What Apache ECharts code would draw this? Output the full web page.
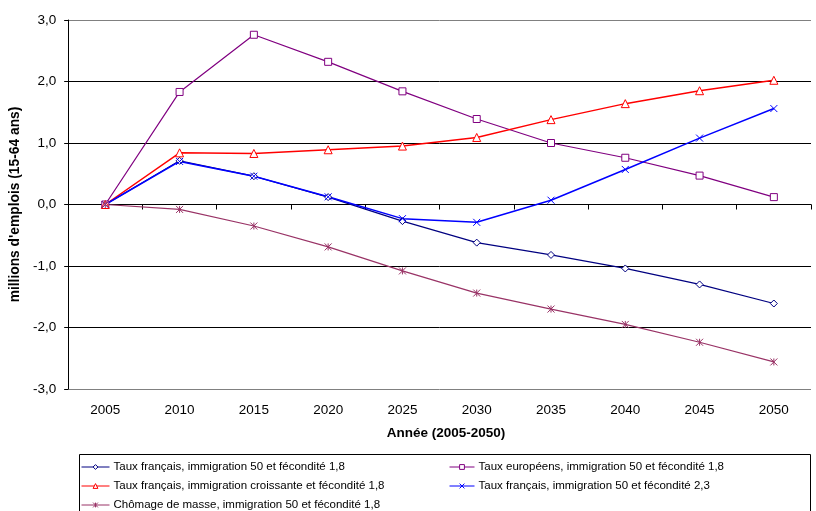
<!DOCTYPE html>
<html>
<head>
<meta charset="utf-8">
<script src="https://cdn.jsdelivr.net/npm/echarts@6/dist/echarts.min.js"></script>
<style>
  html, body { margin: 0; padding: 0; background: #fff; }
  #chart { width: 816px; height: 511px; }
</style>
</head>
<body>
<div id="chart"></div>
<script>
// Années de projection
const years = ['2005', '2010', '2015', '2020', '2025', '2030', '2035', '2040', '2045', '2050'];

// Écart d'emplois par rapport à 2005, en millions (15-64 ans)
const tauxFrancais18 = [0, 0.71, 0.46, 0.12, -0.27, -0.62, -0.82, -1.04, -1.30, -1.61];
const tauxEuropeens18 = [0, 1.83, 2.76, 2.32, 1.84, 1.39, 1.00, 0.76, 0.47, 0.12];
const immigrationCroissante = [0, 0.84, 0.83, 0.89, 0.95, 1.09, 1.38, 1.64, 1.85, 2.02];
const tauxFrancais23 = [0, 0.70, 0.46, 0.125, -0.23, -0.29, 0.07, 0.57, 1.08, 1.56];
const chomageMasse = [0, -0.08, -0.35, -0.69, -1.08, -1.44, -1.70, -1.95, -2.24, -2.56];

const seriesNames = [
  'Taux français, immigration 50 et fécondité 1,8',
  'Taux européens, immigration 50 et fécondité 1,8',
  'Taux français, immigration croissante et fécondité 1,8',
  'Taux français, immigration 50 et fécondité 2,3',
  'Chômage de masse, immigration 50 et fécondité 1,8'
];
const seriesColors = ['#000080', '#800080', '#FF0000', '#0000FF', '#993366'];

const FONT = '"Liberation Sans", Arial, sans-serif';

const diamond = 'path://M5 0 L10 5 L5 10 L0 5 Z';
const cross = 'path://M0 0 L10 10 M10 0 L0 10';
const star = 'path://M0 0 L10 10 M10 0 L0 10 M5 0 L5 10';

function lineSeries(i, data, symbol, size, width) {
  const color = seriesColors[i];
  return {
    name: seriesNames[i],
    type: 'line',
    data: data,
    symbol: symbol,
    symbolSize: size,
    showSymbol: true,
    animation: false,
    lineStyle: { color: color, width: width },
    itemStyle: { color: '#fff', borderColor: color, borderWidth: 1 },
    emphasis: { disabled: true }
  };
}

function legendAt(i, left, top, w) {
  const color = seriesColors[i];
  return {
    data: [{
      name: seriesNames[i],
      itemStyle: { color: '#fff', borderColor: color, borderWidth: 1 },
      lineStyle: { color: color, width: 1 }
    }],
    left: left,
    top: top,
    padding: 0,
    itemWidth: w,
    itemHeight: 6,
    itemGap: 0,
    selectedMode: false,
    textStyle: { fontFamily: FONT, fontSize: 11.5, color: '#000', padding: [0, 0, 0, -1] }
  };
}

const chart = echarts.init(document.getElementById('chart'), null, { renderer: 'canvas' });

chart.setOption({
  animation: false,
  backgroundColor: '#fff',
  grid: { left: 66, top: 20, width: 745, height: 369 },
  xAxis: [
    {
      type: 'category',
      data: years,
      boundaryGap: true,
      axisLine: { onZero: true, lineStyle: { color: '#000', width: 1 } },
      axisTick: { show: true, length: 5, lineStyle: { color: '#000' } },
      axisLabel: { show: false },
      splitLine: { show: false }
    },
    {
      type: 'category',
      data: years,
      position: 'bottom',
      boundaryGap: true,
      axisLine: { show: false, onZero: false },
      axisTick: { show: false },
      axisLabel: { fontFamily: FONT, fontSize: 13.5, color: '#000', margin: 14 },
      splitLine: { show: false },
      name: 'Année (2005-2050)',
      nameLocation: 'middle',
      nameGap: 37,
      nameTextStyle: { fontFamily: FONT, fontSize: 13.5, fontWeight: 'bold', color: '#000', padding: [0, 0, 0, 13] }
    }
  ],
  yAxis: {
    type: 'value',
    min: -3,
    max: 3,
    interval: 1,
    axisLine: { show: true, lineStyle: { color: '#000', width: 1 } },
    axisTick: { show: true, length: 4, lineStyle: { color: '#000' } },
    axisLabel: {
      fontFamily: FONT, fontSize: 13.5, color: '#000', margin: 12,
      formatter: v => v.toFixed(1).replace('.', ',')
    },
    splitLine: {
      show: true,
      lineStyle: { color: ['#808080', '#000', '#000', '#000', '#000', '#000', '#808080'], width: 1 }
    },
    name: "millions d'emplois (15-64 ans)",
    nameLocation: 'middle',
    nameGap: 38,
    nameTextStyle: { fontFamily: FONT, fontSize: 13.8, fontWeight: 'bold', color: '#000' }
  },
  legend: [
    legendAt(0, 81, 461, 28),
    legendAt(1, 449, 461, 25),
    legendAt(2, 81, 480, 28),
    legendAt(3, 449, 480, 25),
    legendAt(4, 81, 499, 28)
  ],
  graphic: [
    {
      type: 'rect',
      shape: { x: 79.5, y: 454.5, width: 731, height: 70 },
      style: { fill: 'none', stroke: '#000', lineWidth: 1 },
      silent: true
    }
  ],
  series: [
    lineSeries(0, tauxFrancais18, diamond, 7, 1.2),
    lineSeries(1, tauxEuropeens18, 'rect', 7, 1.2),
    lineSeries(2, immigrationCroissante, 'triangle', 8, 1.5),
    lineSeries(3, tauxFrancais23, cross, 7, 1.5),
    lineSeries(4, chomageMasse, star, 7, 1.2)
  ]
});
</script>
</body>
</html>
